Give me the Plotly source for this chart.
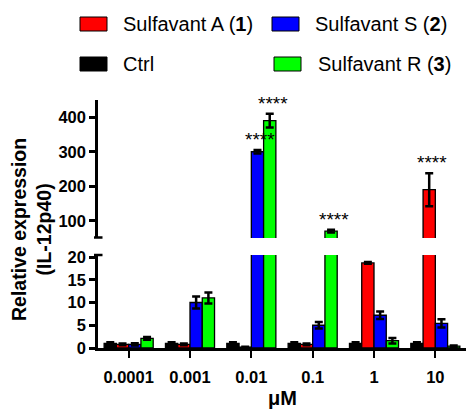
import plotly.graph_objects as go

# ---- data ----
categories = ["0.0001", "0.001", "0.01", "0.1", "1", "10"]
series_names = ["Ctrl", "Sulfavant A (1)", "Sulfavant S (2)", "Sulfavant R (3)"]
legend_labels = ["Ctrl", "Sulfavant A (<b>1</b>)", "Sulfavant S (<b>2</b>)", "Sulfavant R (<b>3</b>)"]
ctrl = [1.0, 1.0, 1.0, 1.0, 1.0, 1.0]
ctrl_err = [0.25, 0.25, 0.25, 0.25, 0.25, 0.25]
sulf_a = [0.8, 0.8, 0.2, 0.8, 18.7, 190]
sulf_a_err = [0.2, 0.2, 0.1, 0.2, 0.2, 48]
sulf_s = [0.8, 10.0, 300, 5.0, 7.2, 5.4]
sulf_s_err = [0.25, 1.3, 5, 0.7, 0.8, 0.9]
sulf_r = [2.1, 11.0, 390, 70, 1.6, 0.4]
sulf_r_err = [0.3, 1.2, 20, 4, 0.6, 0.15]
sig_a = ["", "", "", "", "", "****"]
sig_s = ["", "", "****", "", "", ""]
sig_r = ["", "", "****", "****", "", ""]

values = [ctrl, sulf_a, sulf_s, sulf_r]
errors = [ctrl_err, sulf_a_err, sulf_s_err, sulf_r_err]
sigs = [None, sig_a, sig_s, sig_r]
colors = ["#000000", "#FF0000", "#0000FF", "#00FF00"]

W, H = 466, 411
L, R, T, B = 98, 0, 100, 63
PW, PH = W - L - R, H - T - B


def px_x(x):
    return (x - L) / PW


def px_y(y):
    return (H - B - y) / PH


FONT = "Arial, Liberation Sans, sans-serif"

fig = go.Figure()
for i in range(4):
    for yax in ["y", "y2"]:
        fig.add_trace(go.Bar(
            x=categories, y=values[i], name=series_names[i],
            xaxis="x", yaxis=yax, offsetgroup=str(i),
            marker=dict(color=colors[i], line=dict(color="#000000", width=1.3)),
            error_y=dict(type="data", array=errors[i], color="#000000",
                         thickness=2.5, width=4),
            showlegend=False, hoverinfo="skip",
        ))

annotations = []
# significance stars
n = 4
slot = 61.33 * 0.8 / n
for i in range(1, 4):
    for j, s in enumerate(sigs[i]):
        if s:
            off = (i - (n - 1) / 2) * slot + 3
            annotations.append(dict(
                x=j, y=values[i][j] + errors[i][j], xref="x", yref="y2",
                text=s, showarrow=False, xanchor="center", yanchor="bottom",
                xshift=off, yshift=-2, font=dict(family=FONT, size=19, color="#000000"),
            ))

# y title
annotations.append(dict(
    x=px_x(31), y=px_y(230), xref="paper", yref="paper", textangle=-90,
    text="<b>Relative expression</b><br><b>(IL-12p40)</b>", showarrow=False,
    xanchor="center", yanchor="middle", font=dict(family=FONT, size=19.5, color="#000000"),
))
# x title
annotations.append(dict(
    x=0.5, y=px_y(411), xref="paper", yref="paper", text="<b>μM</b>",
    showarrow=False, xanchor="center", yanchor="bottom",
    font=dict(family=FONT, size=20, color="#000000"),
))

# legend (manual)
legend_pos = [  # swatch x0, row y, text x
    (80, 64, 121),   # Ctrl
    (80, 24, 121),   # A
    (272, 24, 313),  # S
    (274, 64, 316),  # R
]
shapes = []
for i, (sx, ry, tx) in enumerate(legend_pos):
    shapes.append(dict(
        type="rect", xref="paper", yref="paper",
        x0=px_x(sx), x1=px_x(sx + 27), y0=px_y(ry - 7), y1=px_y(ry + 7),
        fillcolor=colors[i], line=dict(color="#000000", width=1),
    ))
    annotations.append(dict(
        x=px_x(tx), y=px_y(ry), xref="paper", yref="paper", text=legend_labels[i],
        showarrow=False, xanchor="left", yanchor="middle",
        font=dict(family=FONT, size=20, color="#000000"),
    ))

# axis-break caps
for yy in [237.5, 255]:
    shapes.append(dict(
        type="line", xref="paper", yref="paper",
        x0=px_x(94), x1=px_x(102.5), y0=px_y(yy), y1=px_y(yy),
        line=dict(color="#000000", width=2.5),
    ))

lower_top = (H - B - 255) / PH
upper_bot = (H - B - 238) / PH

tickfont = dict(family=FONT, size=16.5, color="#000000", weight="bold")
fig.update_layout(
    width=W, height=H, margin=dict(l=L, r=R, t=T, b=B),
    paper_bgcolor="white", plot_bgcolor="white",
    barmode="group", bargap=0.2, bargroupgap=0,
    showlegend=False, hovermode=False,
    font=dict(family=FONT, color="#000000"),
    xaxis=dict(
        type="category", range=[-0.5, 5.5], anchor="y", automargin=False,
        showline=True, linecolor="#000000", linewidth=2.5,
        ticks="outside", ticklen=7, tickwidth=2, tickcolor="#000000",
        ticklabelstandoff=5,
        tickfont=tickfont, showgrid=False, zeroline=False,
    ),
    yaxis=dict(
        domain=[0, lower_top], range=[0, 20 * 93 / 91], anchor="x", automargin=False,
        tickvals=[0, 5, 10, 15, 20],
        showline=True, linecolor="#000000", linewidth=2.5,
        ticks="outside", ticklen=6, tickwidth=2.5, tickcolor="#000000",
        tickfont=tickfont, showgrid=False, zeroline=False,
    ),
    yaxis2=dict(
        domain=[upper_bot, 1], range=[50, 450], anchor="x", automargin=False,
        tickvals=[100, 200, 300, 400],
        showline=True, linecolor="#000000", linewidth=2.5,
        ticks="outside", ticklen=6, tickwidth=2.5, tickcolor="#000000",
        tickfont=tickfont, showgrid=False, zeroline=False,
    ),
    annotations=annotations, shapes=shapes,
)

fig.write_html("out.html", config={"displayModeBar": False},
               post_script="document.body.style.margin='0px';")
